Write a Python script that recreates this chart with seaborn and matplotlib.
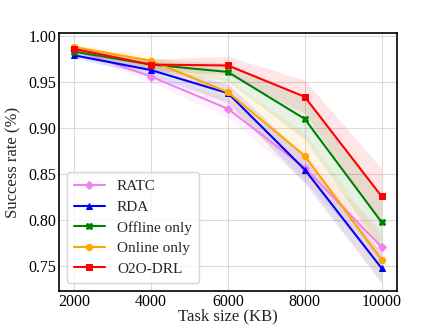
import numpy as np
import pandas as pd
import matplotlib
matplotlib.use("Agg")
import matplotlib.pyplot as plt
import seaborn as sns

sns.set_style("whitegrid")
plt.rcParams['font.family'] = ['Liberation Serif', 'DejaVu Serif']

task_size = [2000, 4000, 6000, 8000, 10000]
methods = ["RATC", "RDA", "Offline only", "Online only", "O2O-DRL"]
ratc = [0.985, 0.956, 0.921, 0.857, 0.771]
rda = [0.979, 0.963, 0.938, 0.855, 0.748]
offline = [0.983, 0.969, 0.961, 0.910, 0.798]
online = [0.988, 0.973, 0.939, 0.870, 0.757]
o2o = [0.986, 0.969, 0.968, 0.934, 0.826]
ratc_band = [0.003, 0.006, 0.010, 0.015, 0.018]
rda_band = [0.003, 0.006, 0.010, 0.015, 0.016]
offline_band = [0.003, 0.006, 0.010, 0.022, 0.030]
online_band = [0.003, 0.006, 0.014, 0.025, 0.025]
o2o_band = [0.003, 0.006, 0.010, 0.018, 0.030]

colors = ["violet", "blue", "green", "orange", "red"]
markers = ["D", "^", "X", "o", "s"]
series = [ratc, rda, offline, online, o2o]
bands = [ratc_band, rda_band, offline_band, online_band, o2o_band]

rows = []
for m, vals in zip(methods, series):
    for x, v in zip(task_size, vals):
        rows.append({"Task size (KB)": x, "Success rate (%)": v, "Method": m})
df = pd.DataFrame(rows)

fig, ax = plt.subplots(figsize=(4.3, 3.26), dpi=100)
for m, vals, b, c, mk in zip(methods, series, bands, colors, markers):
    sub = df[df["Method"] == m]
    sns.lineplot(data=sub, x="Task size (KB)", y="Success rate (%)", ax=ax,
                 color=c, marker=mk, markersize=4.5, markeredgecolor=c,
                 linewidth=1.5, label=m)
    v = np.array(vals); bb = np.array(b)
    ax.fill_between(task_size, v - bb, v + bb, color=c, alpha=0.1, linewidth=0)

ax.set_xticks(task_size)
ax.set_ylim(0.723, 1.003)
ax.set_yticks([0.75, 0.80, 0.85, 0.90, 0.95, 1.00])
ax.set_yticklabels(["0.75", "0.80", "0.85", "0.90", "0.95", "1.00"])
ax.tick_params(labelsize=11.5, colors="black", pad=2, length=0)
ax.set_xlabel("Task size (KB)", fontsize=12)
ax.set_ylabel("Success rate (%)", fontsize=12)
ax.yaxis.set_label_coords(-0.11, 0.5)
ax.xaxis.set_label_coords(0.5, -0.068)
ax.grid(True, color="#cccccc", linewidth=0.8, alpha=0.7)
for s in ax.spines.values():
    s.set_color("black"); s.set_linewidth(1.2)
ax.legend(loc="lower left", fontsize=11, frameon=True, handlelength=2.0,
          labelspacing=0.45, borderpad=0.5)
fig.subplots_adjust(left=0.137, right=0.923, top=0.898, bottom=0.107)
fig.savefig("out.png", dpi=100)
